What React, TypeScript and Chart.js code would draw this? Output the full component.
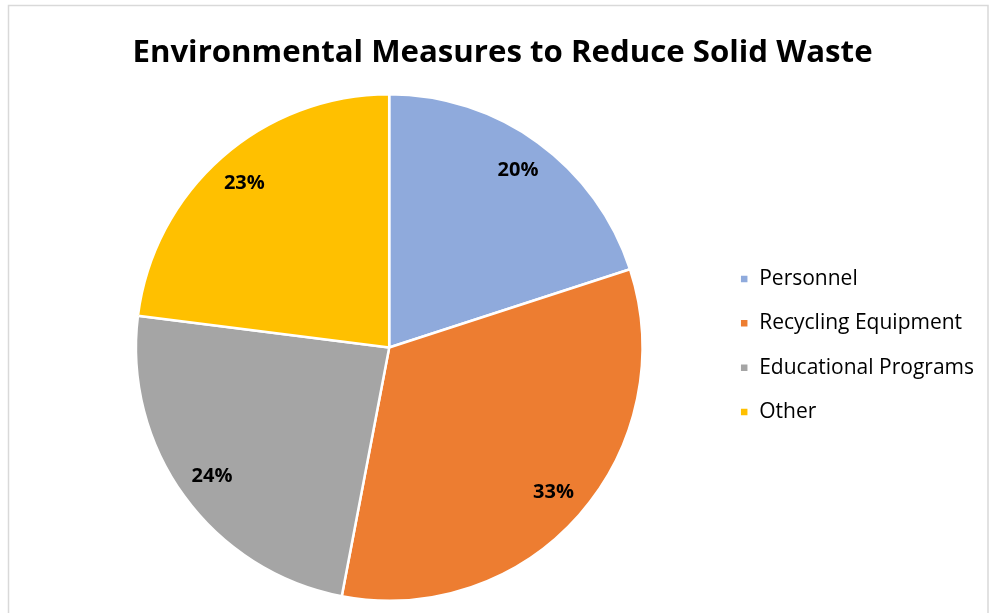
import React, { useEffect, useRef } from "react";
import { Chart, registerables } from "chart.js";

Chart.register(...registerables);

const TITLE = "Environmental Measures to Reduce Solid Waste";
const categories = ["Personnel", "Recycling Equipment", "Educational Programs", "Other"];
const shares = [20, 33, 24, 23];
const sliceColors = ["#8FAADC", "#ED7D31", "#A5A5A5", "#FFC000"];

const FONT = "'Open Sans', 'Noto Sans', sans-serif";

const framePlugin = {
  id: "frame",
  beforeDraw(chart: any) {
    const ctx = chart.ctx;
    ctx.save();
    ctx.fillStyle = "#ffffff";
    ctx.fillRect(0, 0, chart.width, chart.height);
    ctx.strokeStyle = "#d9d9d9";
    ctx.lineWidth = 1.5;
    ctx.strokeRect(8.5, 5.5, chart.width - 9.5, chart.height + 10);
    ctx.restore();
  },
};

// Draws the chart heading centred over the whole frame (the built-in title box only reserves its space)
const headingPlugin = {
  id: "heading",
  afterDraw(chart: any) {
    const ctx = chart.ctx;
    ctx.save();
    ctx.font = `bold 31.2px ${FONT}`;
    ctx.fillStyle = "#000000";
    ctx.textAlign = "center";
    ctx.textBaseline = "alphabetic";
    ctx.fillText(TITLE, 502.5, 61.5);
    ctx.restore();
  },
};

const labelPlugin = {
  id: "sliceLabels",
  afterDatasetsDraw(chart: any) {
    const ctx = chart.ctx;
    const meta = chart.getDatasetMeta(0);
    const data = chart.data.datasets[0].data as number[];
    ctx.save();
    ctx.font = `bold 20px ${FONT}`;
    ctx.fillStyle = "#000000";
    ctx.textAlign = "center";
    ctx.textBaseline = "middle";
    meta.data.forEach((arc: any, i: number) => {
      const p = arc.getProps(["x", "y", "startAngle", "endAngle", "outerRadius"], true);
      const mid = (p.startAngle + p.endAngle) / 2;
      const r = p.outerRadius * 0.865;
      ctx.fillText(`${data[i]}%`, p.x + Math.cos(mid) * r, p.y + Math.sin(mid) * r);
    });
    ctx.restore();
  },
};

export default function App() {
  const ref = useRef<HTMLCanvasElement>(null);
  useEffect(() => {
    if (!ref.current) return;
    const chart = new Chart(ref.current, {
      type: "pie",
      data: {
        labels: categories,
        datasets: [
          {
            data: shares,
            backgroundColor: sliceColors,
            borderColor: "#ffffff",
            borderWidth: 2.5,
          },
        ],
      },
      options: {
        animation: false,
        responsive: false,
        maintainAspectRatio: false,
        layout: { padding: { left: 62, right: 5, top: 0, bottom: 11 } },
        plugins: {
          title: {
            display: true,
            text: "",
            font: { family: FONT, size: 31, weight: "bold", lineHeight: 1.2 },
            padding: { top: 30, bottom: 25.8 },
          },
          legend: {
            display: true,
            position: "right",
            align: "center",
            fullSize: true,
            title: {
              display: true,
              text: " ",
              font: { family: FONT, size: 10, lineHeight: 1 },
              padding: { top: 79, bottom: 0 },
            },
            labels: {
              boxWidth: 9,
              boxHeight: 9,
              padding: 23.3,
              color: "#000000",
              font: { family: FONT, size: 21 },
            },
          },
          tooltip: { enabled: false },
        },
      },
      plugins: [framePlugin, labelPlugin, headingPlugin],
    });
    return () => chart.destroy();
  }, []);
  return (
    <div style={{ position: "absolute", left: 0, top: 0, width: 989, height: 613 }}>
      <canvas ref={ref} width={989} height={613} style={{ display: "block" }} />
    </div>
  );
}
